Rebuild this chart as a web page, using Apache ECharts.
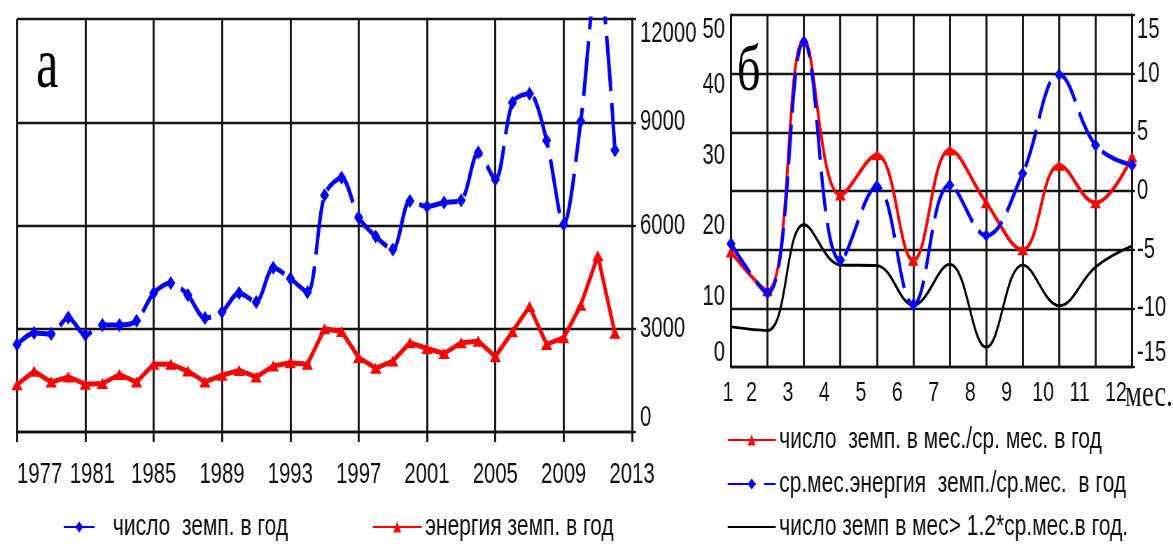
<!DOCTYPE html>
<html>
<head>
<meta charset="utf-8">
<title>Землетрясения: годовой и месячный ход</title>
<script src="https://cdn.jsdelivr.net/npm/echarts@6/dist/echarts.min.js"></script>
<style>
  html, body { margin: 0; padding: 0; background: #fff; overflow: hidden; }
  #chart { height: 544px; transform-origin: 0 0; }
</style>
</head>
<body>
<div id="chart"></div>
<script>
// ---- panel "а": yearly totals -------------------------------------------
const years = [1977, 1978, 1979, 1980, 1981, 1982, 1983, 1984, 1985, 1986, 1987, 1988,
               1989, 1990, 1991, 1992, 1993, 1994, 1995, 1996, 1997, 1998, 1999, 2000,
               2001, 2002, 2003, 2004, 2005, 2006, 2007, 2008, 2009, 2010, 2011, 2012];
const quakeCount = [2540, 2880, 2850, 3330, 2820, 3110, 3110, 3230, 4040, 4330, 3980, 3310,
                    3490, 4040, 3780, 4770, 4460, 4060, 6880, 7390, 6230, 5680, 5300, 6710,
                    6550, 6670, 6730, 8120, 7340, 9570, 9830, 8470, 6030, 9030, 13500, 8190];
const quakeEnergy = [1375, 1765, 1450, 1600, 1390, 1410, 1670, 1450, 1970, 1970, 1770, 1450,
                     1650, 1790, 1600, 1920, 2010, 1970, 3000, 2920, 2165, 1850, 2060, 2595,
                     2425, 2280, 2595, 2640, 2190, 2910, 3650, 2545, 2740, 3685, 5120, 2870];

// ---- panel "б": monthly course ------------------------------------------
const months = [1, 2, 3, 4, 5, 6, 7, 8, 9, 10, 11, 12];
const monthCountRatio  = [-5.2, -8.5, 12.9, -0.35, 3.1, -5.9, 3.5, -1.0, -5.0, 2.2, -1.0, 2.9];
const monthEnergyRatio = [-4.5, -8.7, 12.7, -5.9, 0.4, -9.7, 0.5, -3.8, 1.5, 9.9, 3.9, 2.2];
const monthAboveAvg    = [5.7, 5.2, 20.2, 14.5, 14.4, 8.8, 14.6, 2.8, 14.5, 8.7, 14.2, 17.2];

const NAME_COUNT    = 'число  земп. в год';
const NAME_ENERGY   = 'энергия земп. в год';
const NAME_M_COUNT  = 'число  земп. в мес./ср. мес. в год';
const NAME_M_ENERGY = 'ср.мес.энергия  земп./ср.мес.  в год';
const NAME_M_ABOVE  = 'число земп в мес> 1.2*ср.мес.в год.';

// The figure is drawn on a wider canvas and squeezed horizontally,
// which gives the tall, narrow lettering of the original figure.
const CW = 1676;
const SX = 1173 / CW;
const X = v => v / SX;          // screen x -> canvas x

const el = document.getElementById('chart');
el.style.width = CW + 'px';
el.style.transform = 'scaleX(' + SX + ')';

const SANS = "'Liberation Sans', Arial, sans-serif";
const SERIF = "'Liberation Serif', 'Times New Roman', serif";
const INK = '#111';
const GRID = '#141414';
const LW_V = 2 / SX;            // vertical rule width
const LW_H = 2.3;               // horizontal rule width
const BLUE = '#0000ff';
const RED = '#ff0000';

const chart = echarts.init(el, null, { width: CW, height: 544, renderer: 'canvas' });

function legendRow(name, left, centerY, iconW, extra) {
  return Object.assign({
    data: [name], left: X(left), top: centerY - 15, padding: 0, selectedMode: false,
    itemWidth: X(iconW), itemHeight: 14,
    textStyle: { color: INK, fontFamily: SANS, fontSize: 30, lineHeight: 30 }
  }, extra || {});
}

const option = {
  animation: false,
  backgroundColor: '#fff',
  title: [
    { text: 'а', left: X(36), top: 32, padding: 0,
      textStyle: { fontFamily: SERIF, fontSize: 72, lineHeight: 72, fontWeight: 'normal', color: '#000' } },
    { text: 'б', left: X(737), top: 40, padding: 0,
      textStyle: { fontFamily: SERIF, fontSize: 66, lineHeight: 66, fontWeight: 'normal', color: '#000' } }
  ],
  grid: [
    { left: X(17), top: 19, width: X(632) - X(17), height: 413, containLabel: false, outerBoundsMode: 'none' },
    { left: X(731), top: 15, width: X(1132) - X(731), height: 352, containLabel: false, outerBoundsMode: 'none' }
  ],
  xAxis: [
    {
      gridIndex: 0, type: 'value', min: 1977, max: 2013, interval: 4,
      axisLine: { show: true, onZero: false, lineStyle: { color: GRID, width: LW_H } },
      axisTick: { show: true, length: 10, lineStyle: { color: GRID, width: LW_V } },
      splitLine: { show: true, lineStyle: { color: GRID, width: LW_V } },
      axisLabel: {
        color: INK, fontFamily: SANS, fontSize: 29, margin: 28, alignMinLabel: 'left',
        // the second label is nudged right so it clears the first one
        formatter: v => (v === 1981 ? '{nudge|' + v + '}' : String(v)),
        rich: { nudge: { color: INK, fontFamily: SANS, fontSize: 29, padding: [0, 0, 0, X(14)] } }
      }
    },
    {
      gridIndex: 1, type: 'value', min: 1, max: 12, interval: 1,
      axisLine: { show: true, onZero: false, lineStyle: { color: GRID, width: LW_H } },
      axisTick: { show: false },
      splitLine: { show: true, lineStyle: { color: GRID, width: LW_V } },
      axisLabel: {
        color: INK, fontFamily: SANS, fontSize: 28, margin: 12,
        // month numbers sit between the rules, left of each month line
        padding: [0, X(32), 0, 0],
        formatter: v => (v === 1 ? '{first|1}' : String(v)),
        rich: { first: { color: INK, fontFamily: SANS, fontSize: 28, padding: [0, 0, 0, X(26)] } }
      },
      name: 'мес.', nameLocation: 'end', nameGap: -X(7), nameMoveOverlap: false,
      nameTextStyle: { color: INK, fontFamily: SERIF, fontSize: 38, verticalAlign: 'top',
                       align: 'left', padding: [10, 0, 0, 0] }
    }
  ],
  yAxis: [
    {
      gridIndex: 0, type: 'value', position: 'right', min: 0, max: 12000, interval: 3000,
      axisLine: { show: true, lineStyle: { color: GRID, width: LW_V } },
      axisTick: { show: true, length: X(4), lineStyle: { color: GRID, width: LW_H } },
      splitLine: { show: true, lineStyle: { color: GRID, width: LW_H } },
      axisLabel: { color: INK, fontFamily: SANS, fontSize: 29, margin: X(8),
                   verticalAlignMinLabel: 'bottom', verticalAlignMaxLabel: 'top',
                   formatter: v => String(v) }
    },
    {
      gridIndex: 1, type: 'value', position: 'left', min: 0, max: 50, interval: 10,
      axisLine: { show: true, lineStyle: { color: GRID, width: LW_V } },
      axisTick: { show: false },
      splitLine: { show: false },
      axisLabel: { color: INK, fontFamily: SANS, fontSize: 29, margin: X(6),
                   verticalAlignMinLabel: 'bottom', verticalAlignMaxLabel: 'top',
                   formatter: v => String(v) }
    },
    {
      gridIndex: 1, type: 'value', position: 'right', min: -15, max: 15, interval: 5,
      axisLine: { show: true, lineStyle: { color: GRID, width: LW_V } },
      axisTick: { show: true, length: X(3), lineStyle: { color: GRID, width: LW_H } },
      splitLine: { show: true, lineStyle: { color: GRID, width: LW_H } },
      axisLabel: { color: INK, fontFamily: SANS, fontSize: 29, margin: X(5),
                   verticalAlignMinLabel: 'bottom', verticalAlignMaxLabel: 'top',
                   formatter: v => String(v) }
    }
  ],
  legend: [
    legendRow(NAME_COUNT, 63, 527, 31,
              { textStyle: { color: INK, fontFamily: SANS, fontSize: 30, lineHeight: 30, padding: [0, 0, 0, 21] } }),
    legendRow(NAME_ENERGY, 372, 527, 49),
    legendRow(NAME_M_COUNT, 727, 440, 48),
    legendRow(NAME_M_ENERGY, 727, 484, 48),
    // plain line, no marker
    legendRow(NAME_M_ABOVE, 727, 527, 48, { itemStyle: { opacity: 0 } })
  ],
  series: [
    {
      name: NAME_COUNT, type: 'line', xAxisIndex: 0, yAxisIndex: 0,
      data: years.map((y, i) => [y, quakeCount[i]]),
      smooth: 0.3, clip: true,
      symbol: 'diamond', symbolSize: [13, 14],
      itemStyle: { color: BLUE },
      lineStyle: { color: BLUE, width: 5, type: [55, 12] }
    },
    {
      name: NAME_ENERGY, type: 'line', xAxisIndex: 0, yAxisIndex: 0,
      data: years.map((y, i) => [y, quakeEnergy[i]]),
      smooth: false,
      symbol: 'triangle', symbolSize: [16, 11],
      itemStyle: { color: RED },
      lineStyle: { color: RED, width: 5 }
    },
    {
      name: NAME_M_ABOVE, type: 'line', xAxisIndex: 1, yAxisIndex: 1,
      data: months.map((m, i) => [m, monthAboveAvg[i]]),
      smooth: 0.4, symbol: 'none',
      itemStyle: { color: '#000' },
      lineStyle: { color: '#000', width: 3 }
    },
    {
      name: NAME_M_COUNT, type: 'line', xAxisIndex: 1, yAxisIndex: 2,
      data: months.map((m, i) => [m, monthCountRatio[i]]),
      smooth: 0.4,
      symbol: 'triangle', symbolSize: [15, 11],
      itemStyle: { color: RED },
      lineStyle: { color: RED, width: 4 }
    },
    {
      name: NAME_M_ENERGY, type: 'line', xAxisIndex: 1, yAxisIndex: 2,
      data: months.map((m, i) => [m, monthEnergyRatio[i]]),
      smooth: 0.4,
      symbol: 'diamond', symbolSize: [13, 13],
      itemStyle: { color: BLUE },
      lineStyle: { color: BLUE, width: 4.5, type: [40, 12] }
    }
  ]
};

chart.setOption(option);
</script>
</body>
</html>
